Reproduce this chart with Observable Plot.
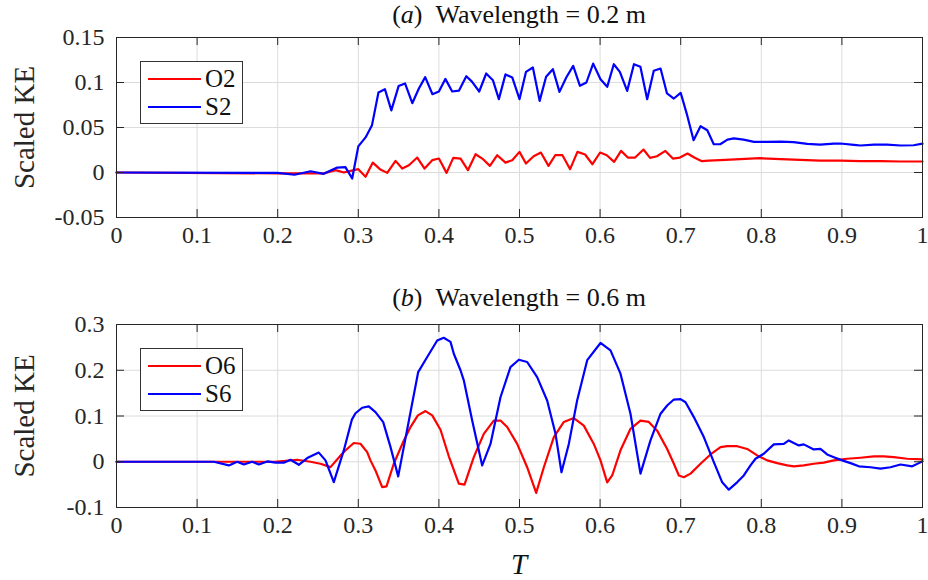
<!DOCTYPE html>
<html><head><meta charset="utf-8">
<script src="https://cdn.jsdelivr.net/npm/d3@7"></script>
<script src="https://cdn.jsdelivr.net/npm/@observablehq/plot@0.6"></script>
<style>
body{margin:0;background:#fff;font-family:"Liberation Serif",serif;color:#262626;}
#wrap{position:relative;width:928px;height:580px;overflow:hidden;}
.panel{position:absolute;left:0;}
.title{position:absolute;left:116px;width:806px;text-align:center;font-size:26px;line-height:1.15;white-space:nowrap;color:#111;font-family:"Liberation Serif",serif;}
.legend{position:absolute;left:140px;width:101px;height:61px;border:1px solid #333;background:#fff;}
.legend .row{position:absolute;left:0;height:28px;width:101px;}
.legend .sw{position:absolute;left:7px;top:13px;width:53px;height:2px;}
.legend .lab{position:absolute;left:64px;top:0;font-size:25px;line-height:28px;color:#111;font-family:"Liberation Serif",serif;}
</style></head>
<body><div id="wrap"></div>
<script>
// ---- data ----
const xTicks = [0,0.1,0.2,0.3,0.4,0.5,0.6,0.7,0.8,0.9,1];
const yTicksA = [-0.05,0,0.05,0.1,0.15];
const yTicksB = [-0.1,0,0.1,0.2,0.3];
const seriesA = ["O2","S2"];
const seriesB = ["O6","S6"];
const titleA = "Wavelength = 0.2 m";
const titleB = "Wavelength = 0.6 m";
const yLabel = "Scaled KE";
const xLabel = "T";

// panel (a) O2
const tA_o2 = [0,0.2,0.2573,0.2718,0.2821,0.2904,0.300,0.309,0.318,0.3268,0.3359,0.3462,0.3545,0.3628,0.3731,0.3822,0.3917,0.400,0.4095,0.4178,0.4269,0.436,0.4455,0.4538,0.4633,0.4724,0.4826,0.491,0.500,0.508,0.5176,0.5265,0.536,0.5443,0.5533,0.5628,0.5719,0.5814,0.5905,0.600,0.6083,0.6174,0.626,0.6344,0.6435,0.6538,0.662,0.6705,0.681,0.6903,0.699,0.7085,0.7168,0.7263,0.7346,0.749,0.774,0.798,0.824,0.848,0.873,0.898,0.923,0.948,0.973,1.0];
const kA_o2 = [0,-0.001,-0.001,0.0026,0,0.0018,0.0037,-0.0048,0.011,0.0037,-0.0004,0.0129,0.0044,0.0081,0.0166,0.0044,0.0137,0.0155,-0.0004,0.0162,0.0155,0.0026,0.0203,0.0155,0.0074,0.0192,0.011,0.0137,0.0229,0.010,0.0181,0.0222,0.0074,0.0192,0.0192,0.0037,0.0229,0.020,0.0092,0.0222,0.0192,0.0118,0.024,0.0166,0.0166,0.0255,0.0162,0.0181,0.024,0.0155,0.0166,0.0211,0.0166,0.0126,0.0133,0.0137,0.0148,0.0159,0.0148,0.014,0.0133,0.0133,0.0126,0.0126,0.0122,0.0122];
// panel (a) S2
const tA_s2 = [0,0.2,0.2209,0.2407,0.257,0.2738,0.284,0.2924,0.300,0.309,0.317,0.325,0.333,0.341,0.350,0.358,0.367,0.375,0.383,0.392,0.400,0.408,0.4165,0.425,0.434,0.441,0.450,0.4587,0.467,0.4744,0.4826,0.491,0.500,0.508,0.5166,0.525,0.533,0.5414,0.5496,0.558,0.5666,0.575,0.583,0.5914,0.6005,0.6088,0.617,0.6245,0.6336,0.642,0.650,0.6584,0.6666,0.675,0.683,0.6915,0.700,0.708,0.716,0.7246,0.733,0.741,0.749,0.758,0.766,0.778,0.791,0.807,0.824,0.840,0.857,0.873,0.890,0.898,0.915,0.923,0.940,0.956,0.973,0.989,1.0];
const kA_s2 = [0,-0.0005,-0.0025,0.0014,-0.0015,0.0055,0.006,-0.0067,0.029,0.039,0.0526,0.0889,0.0926,0.069,0.096,0.099,0.077,0.093,0.106,0.087,0.090,0.104,0.090,0.091,0.107,0.101,0.090,0.110,0.1026,0.0815,0.109,0.1056,0.0815,0.1118,0.1167,0.0796,0.1063,0.1148,0.0896,0.1055,0.1185,0.0963,0.100,0.121,0.1037,0.0952,0.1203,0.1118,0.0907,0.1203,0.1174,0.0815,0.113,0.1155,0.0878,0.0822,0.0885,0.0637,0.0359,0.0514,0.047,0.0314,0.0314,0.0366,0.038,0.0366,0.034,0.034,0.0344,0.0337,0.0318,0.031,0.032,0.0322,0.0307,0.030,0.031,0.031,0.030,0.0303,0.032];
// panel (b) O6
const tB_o6 = [0,0.196,0.224,0.2407,0.253,0.2655,0.278,0.284,0.2944,0.3027,0.311,0.3151,0.3213,0.3296,0.335,0.344,0.3565,0.3648,0.3739,0.3834,0.3917,0.402,0.4123,0.4247,0.4318,0.4433,0.4557,0.4681,0.4764,0.4847,0.4971,0.5095,0.5207,0.5302,0.5426,0.555,0.5674,0.5798,0.5922,0.6005,0.6088,0.615,0.6253,0.6377,0.6501,0.6604,0.6708,0.6832,0.6915,0.6977,0.7039,0.7122,0.7246,0.737,0.7494,0.7577,0.7701,0.7825,0.7949,0.8073,0.8197,0.8321,0.8403,0.8527,0.8651,0.8775,0.89,0.9065,0.9231,0.9396,0.952,0.9644,0.9809,1.0];
const kB_o6 = [0,0,0.0044,0,-0.0044,-0.0117,0.0138,0.0247,0.041,0.0394,0.021,0.003,-0.019,-0.0555,-0.054,-0.0044,0.0467,0.0758,0.1013,0.1108,0.1013,0.070,0.012,-0.048,-0.050,0.010,0.061,0.090,0.090,0.076,0.039,-0.012,-0.068,-0.012,0.054,0.087,0.0955,0.079,0.039,0.003,-0.045,-0.030,0.025,0.072,0.090,0.087,0.068,0.028,-0.0044,-0.030,-0.0337,-0.026,-0.0044,0.016,0.032,0.034,0.034,0.028,0.0138,0.003,-0.003,-0.008,-0.010,-0.008,-0.0044,-0.002,0.003,0.0066,0.0088,0.0116,0.0116,0.0102,0.0066,0.0051];
// panel (b) S6
const tB_s6 = [0,0.1207,0.1394,0.1497,0.158,0.1683,0.1766,0.187,0.1973,0.2076,0.2159,0.2262,0.2366,0.251,0.2593,0.2696,0.282,0.292,0.2965,0.3048,0.313,0.3213,0.3309,0.340,0.3495,0.3743,0.3855,0.3979,0.406,0.4144,0.4185,0.4268,0.4309,0.4413,0.4537,0.4640,0.4764,0.4888,0.4992,0.5095,0.5219,0.5343,0.5447,0.5521,0.5612,0.5715,0.584,0.6005,0.6129,0.6253,0.6377,0.6501,0.6625,0.675,0.6832,0.6915,0.6998,0.706,0.7163,0.7287,0.7411,0.7515,0.7597,0.77,0.7783,0.7866,0.7928,0.8031,0.8155,0.8279,0.8341,0.8403,0.8465,0.8527,0.8651,0.8734,0.8817,0.89,0.9003,0.9107,0.921,0.9355,0.9479,0.9603,0.9727,0.9872,0.9955,1.0];
const kB_s6 = [0,0,-0.008,0,-0.006,0,-0.006,0.0007,-0.002,-0.002,0.0044,-0.0066,0.008,0.020,0.003,-0.0446,0.0247,0.092,0.106,0.118,0.121,0.1086,0.0867,0.032,-0.032,0.196,0.229,0.265,0.271,0.262,0.236,0.200,0.178,0.090,-0.008,0.039,0.141,0.207,0.223,0.218,0.185,0.134,0.061,-0.023,0.039,0.134,0.222,0.2596,0.2435,0.1925,0.105,-0.026,0.0466,0.105,0.123,0.136,0.137,0.130,0.0976,0.054,-0.001,-0.045,-0.061,-0.045,-0.030,-0.008,0.0066,0.0175,0.038,0.039,0.0466,0.041,0.0357,0.038,0.027,0.028,0.016,0.010,0.003,-0.003,-0.010,-0.012,-0.015,-0.012,-0.006,-0.010,-0.003,0.001];

const RED = "#ff0000", BLUE = "#0000ff";
const FONT = "Liberation Serif";
const W = 928, ML = 116, MR = 6;
const toRows = (ts, ks) => ts.map((t, i) => ({T: t, K: ks[i]}));

function panel({height, mt, mb, yDomain, yTicks, lines}) {
  const fw = W - ML - MR, fh = height - mt - mb;
  const fmt = d => String(d);
  const svg = Plot.plot({
    width: W, height, marginLeft: ML, marginRight: MR, marginTop: mt, marginBottom: mb,
    style: {fontSize: "24px", color: "#262626", background: "transparent", overflow: "visible"},
    x: {domain: [0, 1]},
    y: {domain: yDomain},
    marks: [
      Plot.gridX(xTicks, {stroke: "#dcdcdc", strokeOpacity: 1, strokeWidth: 1}),
      Plot.gridY(yTicks, {stroke: "#dcdcdc", strokeOpacity: 1, strokeWidth: 1}),
      ...lines.map(l => Plot.line(l.data, {x: "T", y: "K", stroke: l.color, strokeWidth: 2.2, strokeLinejoin: "round"})),
      Plot.ruleX(xTicks, {x: d => d, insetTop: fh - 8, stroke: "#262626"}),
      Plot.ruleX(xTicks, {x: d => d, insetBottom: fh - 8, stroke: "#262626"}),
      Plot.ruleY(yTicks, {y: d => d, insetRight: fw - 8, stroke: "#262626"}),
      Plot.ruleY(yTicks, {y: d => d, insetLeft: fw - 8, stroke: "#262626"}),
      Plot.frame({stroke: "#262626", strokeWidth: 1}),
      Plot.axisX(xTicks, {tickSize: 0, tickPadding: 8, tickFormat: fmt, fontSize: 24, label: null, fill: "#262626"}),
      Plot.axisY(yTicks, {tickSize: 0, tickPadding: 12, tickFormat: fmt, fontSize: 24, label: null, fill: "#262626"}),
      Plot.text([yLabel], {text: d => d, frameAnchor: "left", rotate: -90, dx: -92, fontSize: 29, textAnchor: "middle", lineAnchor: "middle", fill: "#262626"})
    ]
  });
  d3.select(svg).attr("font-family", FONT).style("font-family", FONT);
  d3.select(svg).selectAll("text").attr("font-family", FONT).style("font-family", FONT).style("font-variant", "normal");
  return svg;
}

const wrap = document.getElementById("wrap");

const pa = panel({
  height: 260, mt: 37, mb: 43, yDomain: [-0.05, 0.15], yTicks: yTicksA,
  lines: [{data: toRows(tA_o2, kA_o2), color: RED}, {data: toRows(tA_s2, kA_s2), color: BLUE}]
});
const pb = panel({
  height: 320, mt: 64, mb: 73, yDomain: [-0.1, 0.3], yTicks: yTicksB,
  lines: [{data: toRows(tB_o6, kB_o6), color: RED}, {data: toRows(tB_s6, kB_s6), color: BLUE}]
});

const da = document.createElement("div"); da.className = "panel"; da.style.top = "0px"; da.appendChild(pa);
const db = document.createElement("div"); db.className = "panel"; db.style.top = "260px"; db.appendChild(pb);
wrap.appendChild(da); wrap.appendChild(db);

// x-axis label T (italic)
const xt = document.createElement("div");
xt.textContent = xLabel;
Object.assign(xt.style, {position: "absolute", left: (ML + (W - ML - MR) / 2 - 20) + "px", width: "40px", textAlign: "center", top: "550px", fontSize: "29px", fontStyle: "italic", lineHeight: "1", color: "#111", fontFamily: "'Liberation Serif', serif"});
wrap.appendChild(xt);

function addTitle(letter, text, top) {
  const d = document.createElement("div");
  d.className = "title";
  d.style.top = top + "px";
  const i = document.createElement("i"); i.textContent = letter;
  d.append("(", i, ")\u2002" + text);
  wrap.appendChild(d);
}
addTitle("a", titleA, 0);
addTitle("b", titleB, 283);

function addLegend(names, top) {
  const lg = document.createElement("div");
  lg.className = "legend"; lg.style.top = top + "px";
  names.forEach((n, i) => {
    const r = document.createElement("div"); r.className = "row"; r.style.top = (3 + i * 28) + "px";
    const s = document.createElement("div"); s.className = "sw"; s.style.background = i === 0 ? RED : BLUE;
    const t = document.createElement("div"); t.className = "lab"; t.textContent = n;
    r.append(s, t); lg.appendChild(r);
  });
  wrap.appendChild(lg);
}
addLegend(seriesA, 61);
addLegend(seriesB, 348);
</script>
</body></html>
